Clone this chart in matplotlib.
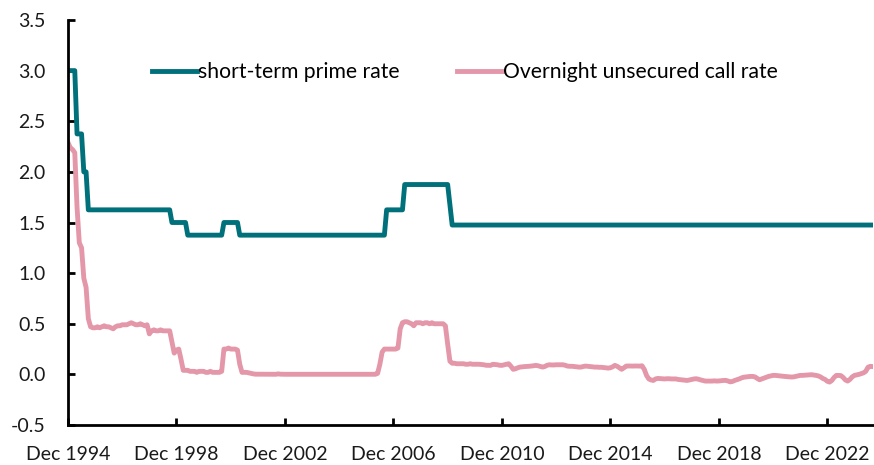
import numpy as np
import matplotlib
matplotlib.use("Agg")
import matplotlib.pyplot as plt

plt.rcParams['font.family'] = ['Lato', 'DejaVu Sans']
plt.rcParams['axes.unicode_minus'] = False

# monthly series, Dec 1994 .. Aug 2024
prime_rate = (
    [3.0]
    + [3.0, 3.0, 3.0, 2.375, 2.375, 2.375, 2.0, 2.0, 1.625, 1.625, 1.625, 1.625]  # 1995
    + [1.625] * 12  # 1996
    + [1.625] * 12  # 1997
    + [1.625] * 9 + [1.5, 1.5, 1.5]  # 1998
    + [1.5, 1.5, 1.5, 1.5, 1.375, 1.375, 1.375, 1.375, 1.375, 1.375, 1.375, 1.375]  # 1999
    + [1.375] * 8 + [1.5, 1.5, 1.5, 1.5]  # 2000
    + [1.5, 1.5, 1.5] + [1.375] * 9  # 2001
    + [1.375] * 12  # 2002
    + [1.375] * 12  # 2003
    + [1.375] * 12  # 2004
    + [1.375] * 12  # 2005
    + [1.375] * 8 + [1.625] * 4  # 2006
    + [1.625, 1.625, 1.625, 1.625] + [1.875] * 8  # 2007
    + [1.875] * 11 + [1.875]  # 2008
    + [1.675, 1.475] + [1.475] * 10  # 2009
    + [1.475] * 12 * 14  # 2010-2023
    + [1.475] * 8  # 2024
)

call_rate = (
    [2.29]
    + [2.24, 2.22, 2.19, 1.65, 1.30, 1.25, 0.95, 0.86, 0.55, 0.47, 0.46, 0.46]  # 1995
    + [0.47, 0.46, 0.47, 0.48, 0.47, 0.47, 0.46, 0.45, 0.47, 0.48, 0.48, 0.49]  # 1996
    + [0.49, 0.49, 0.50, 0.51, 0.50, 0.49, 0.49, 0.50, 0.49, 0.48, 0.49, 0.40]  # 1997
    + [0.43, 0.44, 0.43, 0.43, 0.44, 0.43, 0.43, 0.43, 0.43, 0.32, 0.21, 0.24]  # 1998
    + [0.25, 0.15, 0.04, 0.04, 0.04, 0.03, 0.03, 0.03, 0.02, 0.03, 0.03, 0.03]  # 1999
    + [0.02, 0.02, 0.03, 0.02, 0.02, 0.02, 0.02, 0.03, 0.25, 0.25, 0.26, 0.25]  # 2000
    + [0.25, 0.25, 0.24, 0.10, 0.02, 0.02, 0.02, 0.015, 0.01, 0.005, 0.002, 0.002]  # 2001
    + [0.002, 0.002, 0.001, 0.001, 0.001, 0.001, 0.001, 0.001, 0.005, 0.002, 0.001, 0.001]  # 2002
    + [0.001] * 12  # 2003
    + [0.001] * 12  # 2004
    + [0.001] * 12  # 2005
    + [0.001, 0.001, 0.001, 0.001, 0.01, 0.10, 0.22, 0.25, 0.25, 0.25, 0.25, 0.25]  # 2006
    + [0.25, 0.26, 0.45, 0.51, 0.52, 0.52, 0.51, 0.50, 0.48, 0.51, 0.51, 0.51]  # 2007
    + [0.50, 0.51, 0.51, 0.50, 0.51, 0.50, 0.50, 0.50, 0.50, 0.50, 0.48, 0.30]  # 2008
    + [0.13, 0.11, 0.11, 0.105, 0.105, 0.105, 0.105, 0.10, 0.10, 0.105, 0.10, 0.10]  # 2009
    + [0.10, 0.10, 0.098, 0.095, 0.09, 0.09, 0.089, 0.10, 0.098, 0.095, 0.09, 0.089]  # 2010
    + [0.095, 0.10, 0.105, 0.08, 0.05, 0.055, 0.065, 0.072, 0.075, 0.077, 0.078, 0.08]  # 2011
    + [0.082, 0.085, 0.089, 0.085, 0.078, 0.072, 0.078, 0.09, 0.095, 0.093, 0.093, 0.095]  # 2012
    + [0.095, 0.095, 0.095, 0.09, 0.082, 0.08, 0.08, 0.078, 0.075, 0.072, 0.072, 0.078]  # 2013
    + [0.082, 0.08, 0.077, 0.075, 0.072, 0.072, 0.07, 0.07, 0.068, 0.065, 0.062, 0.065]  # 2014
    + [0.075, 0.089, 0.08, 0.065, 0.05, 0.065, 0.082, 0.083, 0.082, 0.082, 0.083, 0.082]  # 2015
    + [0.082, 0.085, 0.05, -0.01, -0.045, -0.055, -0.06, -0.045, -0.04, -0.042, -0.043, -0.045]  # 2016
    + [-0.043, -0.043, -0.045, -0.045, -0.045, -0.05, -0.052, -0.055, -0.058, -0.06, -0.055, -0.05]  # 2017
    + [-0.045, -0.043, -0.048, -0.055, -0.06, -0.066, -0.066, -0.066, -0.066, -0.064, -0.066, -0.065]  # 2018
    + [-0.062, -0.06, -0.059, -0.065, -0.074, -0.07, -0.06, -0.053, -0.045, -0.035, -0.028, -0.025]  # 2019
    + [-0.022, -0.02, -0.02, -0.025, -0.04, -0.053, -0.045, -0.036, -0.03, -0.02, -0.015, -0.01]  # 2020
    + [-0.01, -0.012, -0.015, -0.018, -0.02, -0.022, -0.025, -0.026, -0.025, -0.02, -0.015, -0.01]  # 2021
    + [-0.01, -0.008, -0.005, -0.003, -0.003, -0.006, -0.01, -0.015, -0.025, -0.04, -0.05, -0.068]  # 2022
    + [-0.076, -0.06, -0.03, -0.01, -0.01, -0.012, -0.03, -0.055, -0.066, -0.05, -0.025, -0.01]  # 2023
    + [-0.005, 0.0, 0.007, 0.015, 0.03, 0.07, 0.08, 0.077]  # 2024
)

tick_labels = ["Dec 1994", "Dec 1998", "Dec 2002", "Dec 2006",
               "Dec 2010", "Dec 2014", "Dec 2018", "Dec 2022"]
y_ticks = [-0.5, 0.0, 0.5, 1.0, 1.5, 2.0, 2.5, 3.0, 3.5]

teal = '#00707a'
pink = '#e397a9'

months = np.arange(len(call_rate))

fig = plt.figure(figsize=(8.74, 4.65), dpi=100)
ax = fig.add_axes([0.0778, 0.086, 0.9205, 0.871])

ax.plot(months, prime_rate[:len(months)], color=teal, lw=3.5,
        solid_joinstyle='round', label='short-term prime rate')
ax.plot(months, call_rate, color=pink, lw=3.5,
        solid_joinstyle='round', label='Overnight unsecured call rate')

ax.set_xlim(0, len(months) - 1)
ax.set_ylim(-0.5, 3.5)
ax.set_xticks(np.arange(0, len(months), 48))
ax.set_xticklabels(tick_labels)
ax.set_yticks(y_ticks)
ax.set_yticklabels([f"{v:.1f}" for v in y_ticks])

for side in ['top', 'right']:
    ax.spines[side].set_visible(False)
for side in ['left', 'bottom']:
    ax.spines[side].set_linewidth(2.0)
    ax.spines[side].set_color('black')

ax.tick_params(axis='both', direction='in', length=5, width=2,
               labelsize=14, colors='black', labelcolor='#1a1a1a')
ax.tick_params(axis='x', pad=15)
ax.tick_params(axis='y', pad=16)

ax.legend(loc='center left', bbox_to_anchor=(0.174, 0.845),
          bbox_transform=fig.transFigure, ncol=2, frameon=False,
          fontsize=15.2, handlelength=2.13, handletextpad=0.05,
          columnspacing=2.7, borderpad=0, borderaxespad=0)

fig.savefig('out.png', dpi=100)
